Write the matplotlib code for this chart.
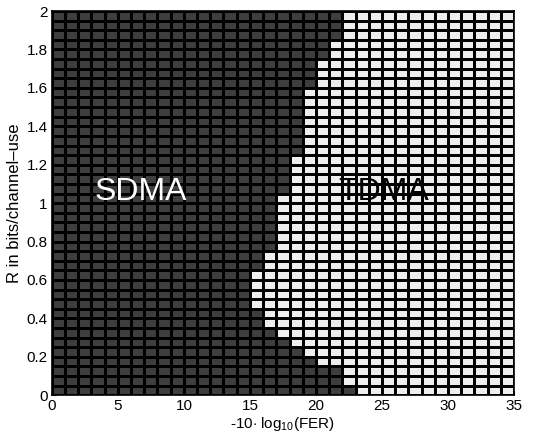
import numpy as np
import matplotlib
matplotlib.use('Agg')
import matplotlib.pyplot as plt
from matplotlib.colors import ListedColormap

plt.rcParams['font.family'] = ['Liberation Sans', 'DejaVu Sans']
plt.rcParams['mathtext.fontset'] = 'custom'
plt.rcParams['mathtext.rm'] = 'Liberation Sans'
plt.rcParams['mathtext.it'] = 'Liberation Sans:italic'

# grid of the decision map
snr_edges = np.arange(0, 36, 1)          # -10 log10(FER), 35 columns
rate_edges = np.linspace(0, 2, 41)       # R, 40 rows of 0.05

# first TDMA column for every rate row, bottom row first
sdma_limit = [23, 22, 22, 20, 19, 18, 17, 16, 16, 15,
              15, 15, 15, 16, 16, 17, 17, 17, 17, 17,
              17, 18, 18, 18, 18, 19, 19, 19, 19, 19,
              19, 19, 20, 20, 20, 21, 21, 22, 22, 22]

xticks = [0, 5, 10, 15, 20, 25, 30, 35]
yticks = [0, 0.2, 0.4, 0.6, 0.8, 1, 1.2, 1.4, 1.6, 1.8, 2]
ytick_labels = ['0', '0.2', '0.4', '0.6', '0.8', '1', '1.2', '1.4', '1.6', '1.8', '2']

cols = np.arange(len(snr_edges) - 1)
scheme = np.array([(cols < lim).astype(int) for lim in sdma_limit])  # 1 = SDMA

fig = plt.figure(figsize=(5.52, 4.43), dpi=100)
ax = fig.add_axes([0.094, 0.108, 0.837, 0.867])

cmap = ListedColormap(['#eeeeee', '#3e3e3e'])
ax.pcolormesh(snr_edges, rate_edges, scheme, cmap=cmap, vmin=0, vmax=1,
              edgecolors='black', linewidth=0.8)

ax.text(6.7, 1.06, 'SDMA', color='white', fontsize=23, ha='center', va='center')
ax.text(25.1, 1.06, 'TDMA', color='black', fontsize=23, ha='center', va='center')

ax.set_xlim(0, 35)
ax.set_ylim(0, 2)
ax.set_xticks(xticks)
ax.set_yticks(yticks)
ax.set_yticklabels(ytick_labels)
ax.tick_params(direction='in', length=3, labelsize=11, pad=3)
for s in ax.spines.values():
    s.set_linewidth(1.2)

ax.set_xlabel(r'-10$\cdot$ log$_{10}$(FER)', fontsize=11, labelpad=1)
ax.set_ylabel('R in bits/channel\u2013use', fontsize=12, labelpad=3)

fig.savefig('out.png', dpi=100)
